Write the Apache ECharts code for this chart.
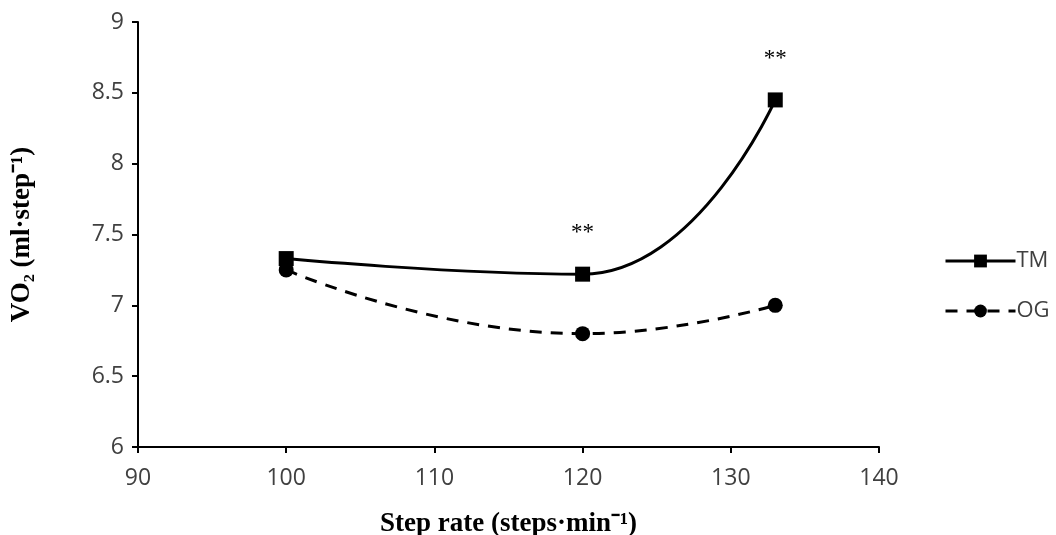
<!DOCTYPE html>
<html>
<head>
<meta charset="utf-8">
<script src="https://cdn.jsdelivr.net/npm/echarts@6/dist/echarts.min.js"></script>
<style>
  html, body { margin: 0; padding: 0; background: #fff; }
  #chart { width: 1056px; height: 535px; }
</style>
</head>
<body>
<div id="chart"></div>
<script>
// step rate (steps/min) and VO2 per step
const stepRates = [100, 120, 133];
const tmValues = [7.33, 7.22, 8.45];
const ogValues = [7.25, 6.80, 7.00];
const tmStars = ['', '**', '**'];
const seriesNames = ['TM', 'OG'];

const chart = echarts.init(document.getElementById('chart'));

const toPoints = (vals) => stepRates.map((x, i) => [x, vals[i]]);

const option = {
    animation: false,
    backgroundColor: '#fff',
    grid: {
        left: 138,
        right: 177,
        top: 22,
        bottom: 88,
        containLabel: false,
        outerBoundsMode: 'none',
    },
    legend: {
        orient: 'vertical',
        left: 939,
        top: 245,
        itemWidth: 70,
        itemHeight: 16,
        itemGap: 28,
        lineStyle: { width: 3 },
        textStyle: { fontFamily: 'Open Sans', fontSize: 22, color: '#404040', padding: [0, 0, 0, -4] },
        data: seriesNames,
    },
    xAxis: {
        type: 'value',
        min: 90,
        max: 140,
        interval: 10,
        name: 'Step rate (steps·min⁻¹)',
        nameLocation: 'middle',
        nameGap: 64,
        nameTextStyle: { fontFamily: 'Liberation Serif', fontWeight: 'bold', fontSize: 27, color: '#000' },
        axisLine: { lineStyle: { color: '#000', width: 2 } },
        axisTick: { show: true, length: 6, lineStyle: { color: '#000', width: 2 } },
        axisLabel: { fontFamily: 'Open Sans', fontSize: 23, color: '#404040', margin: 20 },
        splitLine: { show: false },
    },
    yAxis: {
        type: 'value',
        min: 6,
        max: 9,
        interval: 0.5,
        name: 'VO₂ (ml·step⁻¹)',
        nameLocation: 'middle',
        nameGap: 102,
        nameTextStyle: { fontFamily: 'Liberation Serif', fontWeight: 'bold', fontSize: 27, color: '#000' },
        axisLine: { show: true, lineStyle: { color: '#000', width: 2 } },
        axisTick: { show: true, length: 6, lineStyle: { color: '#000', width: 2 } },
        axisLabel: { fontFamily: 'Open Sans', fontSize: 23, color: '#404040', margin: 14 },
        splitLine: { show: false },
    },
    series: [
        {
            name: seriesNames[0],
            type: 'line',
            smooth: 0.5,
            smoothConstraint: false,
            data: toPoints(tmValues),
            symbol: 'rect',
            symbolSize: 15,
            itemStyle: { color: '#000' },
            lineStyle: { color: '#000', width: 3 },
            label: {
                show: true,
                position: 'top',
                distance: 22,
                fontFamily: 'Liberation Serif',
                fontSize: 23,
                color: '#000',
                formatter: (p) => tmStars[p.dataIndex],
            },
        },
        {
            name: seriesNames[1],
            type: 'line',
            smooth: 0.5,
            smoothConstraint: false,
            data: toPoints(ogValues),
            symbol: 'circle',
            symbolSize: 15,
            itemStyle: { color: '#000' },
            lineStyle: { color: '#000', width: 3, type: [12, 9] },
        },
    ],
};

chart.setOption(option);
</script>
</body>
</html>
